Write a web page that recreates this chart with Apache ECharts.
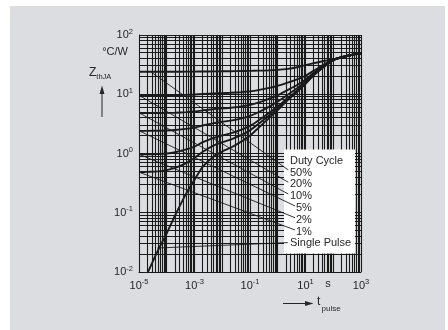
<!DOCTYPE html>
<html><head><meta charset="utf-8">
<script src="https://cdn.jsdelivr.net/npm/echarts@6/dist/echarts.min.js"></script>
<style>html,body{margin:0;padding:0;background:#fff}#c{width:448px;height:330px}</style>
</head><body><div id="c"></div><script>
// pulse durations (s)
const tPulse = [1e-5,2e-5,5e-5,1e-4,2e-4,5e-4,1e-3,2e-3,5e-3,1e-2,2e-2,5e-2,0.1,0.2,0.5,1,2,5,10,20,50,100,200,500,1000];
// thermal impedance Z_thJA (°C/W)
const zD50 = [24,24,24,24,24,24.05,24.1,24.2,24.3,24.4,24.5,24.65,24.8,25,25.3,25.8,26.6,28.5,31,33.5,36.8,39,42.5,46.5,48.5];
const zD20 = [9.6,9.61,9.62,9.64,9.67,9.77,9.89,10.08,10.32,10.46,10.6,10.88,11.2,11.76,12.8,13.9,15.4,17.8,20.5,25,32.5,38.5,42.2,46.5,48.5];
const zD10 = [4.8,4.81,4.82,4.84,4.88,4.99,5.12,5.34,5.61,5.77,5.93,6.24,6.6,7.23,8.4,9.66,11.4,14.3,17.8,23,31.5,38.2,42.1,46.5,48.5];
const zD5  = [2.4,2.41,2.42,2.44,2.49,2.6,2.74,2.97,3.26,3.43,3.59,3.92,4.3,4.97,6.2,7.53,9.4,12.6,16.4,22,30.8,38,42,46.5,48.5];
const zD2  = [0.965,0.97,0.98,1.0,1.05,1.17,1.31,1.55,1.84,2.02,2.19,2.53,2.92,3.6,4.88,6.25,8.2,11.5,15.6,21.4,30.3,37.9,42,46.5,48.5];
const zD1  = [0.485,0.49,0.5,0.525,0.57,0.69,0.84,1.07,1.37,1.55,1.72,2.06,2.46,3.15,4.44,5.83,7.8,11.3,15.2,21.2,30.1,37.8,42,46.5,48.5];
const zSingle = [0.005,0.0095,0.024,0.045,0.09,0.21,0.36,0.6,0.9,1.08,1.25,1.6,2.0,2.7,4.0,5.4,7.5,11,15,21,30,37.8,42,46.5,48.5];

const curveNames = ['50%','20%','10%','5%','2%','1%','Single Pulse'];
const curveValues = [zD50,zD20,zD10,zD5,zD2,zD1,zSingle];
// leader lines: [t, Z] start on curve -> end at label
const leaderFrom = [[2.8e-5,23.5],[1e-5,9.6],[1.05e-5,4.8],[1.05e-5,2.4],[1.05e-5,0.96],[1.05e-5,0.48],[4.5e-5,0.0254]];
const leaderTo   = [[2.4,0.527],[2.4,0.327],[2.4,0.207],[4.2,0.13],[4.2,0.0824],[4.2,0.0512],[2.3,0.0313]];

const xMin = 1e-5, xMax = 1e3, yMin = 1e-2, yMax = 1e2;
// log grid line values
const gridX = [], gridY = [];
for (let e = -5; e < 3; e++) for (let m = 1; m <= 9; m++) gridX.push(Number((m*Math.pow(10,e)).toPrecision(3)));
gridX.push(1000);
for (let e = -2; e < 2; e++) for (let m = 1; m <= 9; m++) gridY.push(Number((m*Math.pow(10,e)).toPrecision(3)));
gridY.push(100);

const FONT = 'Liberation Sans, Arial, Helvetica, sans-serif';
const TXT = '#262626';

function expLabel(v, oddOnly){
  const e = Math.round(Math.log10(v));
  if (oddOnly && Math.abs(e % 2) !== 1) return '';
  return '{b|10}{s|' + e + '}';
}
const richExp = {
  b: {fontSize: 11, fontFamily: FONT, color: TXT},
  s: {fontSize: 7.5, fontFamily: FONT, color: TXT, verticalAlign: 'bottom', padding: [0,0,7,0]}
};

const series = [];
series.push({
  type: 'custom', z: 1, silent: true, animation: false,
  data: gridX.map(v => [v, 1]),
  renderItem: (params, api) => {
    const p1 = api.coord([api.value(0), yMin]);
    const p2 = api.coord([api.value(0), yMax]);
    const x = Math.round(p1[0] - 0.5) + 0.5;
    return {type: 'line', shape: {x1: x, y1: p1[1], x2: x, y2: p2[1]}, style: {stroke: '#1a1a1a', lineWidth: 1.1}};
  }
});
series.push({
  type: 'custom', z: 1, silent: true, animation: false,
  data: gridY.map(v => [1, v]),
  renderItem: (params, api) => {
    const p1 = api.coord([xMin, api.value(1)]);
    const p2 = api.coord([xMax, api.value(1)]);
    const y = Math.round(p1[1] - 0.5) + 0.5;
    return {type: 'line', shape: {x1: p1[0], y1: y, x2: p2[0], y2: y}, style: {stroke: '#1a1a1a', lineWidth: 1.1}};
  }
});
curveValues.forEach((arr, i) => {
  series.push({
    name: curveNames[i], type: 'line', z: 8, silent: true,
    data: tPulse.map((t, k) => [t, arr[k]]),
    showSymbol: false, smooth: 0.25, clip: true,
    lineStyle: {color: '#1a1a1a', width: 1.9},
    animation: false
  });
  series.push({
    name: curveNames[i] + ' leader', type: 'line', zlevel: 2, z: 1, silent: true,
    data: [leaderFrom[i], leaderTo[i]],
    showSymbol: false, clip: false,
    lineStyle: {color: '#1a1a1a', width: 0.9},
    animation: false
  });
});

const legendItems = [
  ['Duty Cycle', 290, 161],
  ['50%', 290, 172.5],
  ['20%', 290, 184.2],
  ['10%', 290, 196],
  ['5%', 296, 208],
  ['2%', 296, 219.8],
  ['1%', 296, 231.6],
  ['Single Pulse', 290, 243.4]
];

// decorative elements drawn above the plot (legend box, axis titles, white page frame)
const topElems = [
  {type: 'rect', shape: {x: 0, y: 0, width: 448, height: 6}, style: {fill: '#ffffff'}},
  {type: 'rect', shape: {x: 0, y: 0, width: 10, height: 330}, style: {fill: '#ffffff'}},
  {type: 'rect', shape: {x: 445, y: 0, width: 3, height: 330}, style: {fill: '#ffffff'}},
  {type: 'rect', shape: {x: 284, y: 149.5, width: 71, height: 104}, style: {fill: '#ffffff'}},
  {type: 'text', x: 128, y: 52, style: {text: '°C/W', font: '11px ' + FONT, fill: TXT, align: 'right', verticalAlign: 'middle'}},
  {type: 'text', x: 89, y: 73, style: {text: '{z|Z}{sub|thJA}', fill: TXT, align: 'left', verticalAlign: 'middle',
     rich: {z: {fontSize: 12, fontFamily: FONT, fill: TXT}, sub: {fontSize: 7.5, fontFamily: FONT, fill: TXT, verticalAlign: 'top', padding: [7,0,0,0]}}}},
  {type: 'line', shape: {x1: 102, y1: 117, x2: 102, y2: 92}, style: {stroke: TXT, lineWidth: 1}},
  {type: 'polygon', shape: {points: [[99.5, 94], [104.5, 94], [102, 85.5]]}, style: {fill: TXT}},
  {type: 'text', x: 328, y: 283.5, style: {text: 's', font: '11px ' + FONT, fill: TXT, align: 'center', verticalAlign: 'middle'}},
  {type: 'line', shape: {x1: 283, y1: 303.5, x2: 306, y2: 303.5}, style: {stroke: TXT, lineWidth: 1}},
  {type: 'polygon', shape: {points: [[305, 301], [305, 306], [313.5, 303.5]]}, style: {fill: TXT}},
  {type: 'text', x: 317, y: 302, style: {text: 't', font: '12px ' + FONT, fill: TXT, align: 'left', verticalAlign: 'middle'}},
  {type: 'text', x: 321.5, y: 308.5, style: {text: 'pulse', font: '8px ' + FONT, fill: TXT, align: 'left', verticalAlign: 'middle'}}
];
legendItems.forEach(([txt, x, y]) => topElems.push({
  type: 'text', x: x, y: y,
  style: {text: txt, font: '11px ' + FONT, fill: TXT, align: 'left', verticalAlign: 'middle'}
}));
topElems.forEach(el => { el.zlevel = 1; el.z = 50; el.silent = true; });

const chart = echarts.init(document.getElementById('c'), null, {renderer: 'canvas'});
chart.setOption({
  backgroundColor: '#dcdde0',
  animation: false,
  grid: {left: 139, right: 87, top: 35, bottom: 58, containLabel: false},
  xAxis: {
    type: 'log', logBase: 10, min: xMin, max: xMax, splitNumber: 8,
    axisLine: {show: true, lineStyle: {color: '#1c1c1c', width: 1}},
    axisTick: {show: false}, splitLine: {show: false},
    axisLabel: {margin: 6, formatter: v => expLabel(v, true), rich: richExp, showMinLabel: true, showMaxLabel: true, interval: 0}
  },
  yAxis: {
    type: 'log', logBase: 10, min: yMin, max: yMax, splitNumber: 4,
    axisLine: {show: true, lineStyle: {color: '#1c1c1c', width: 1}},
    axisTick: {show: false}, splitLine: {show: false},
    axisLabel: {margin: 6, formatter: v => expLabel(v, false), rich: richExp, showMinLabel: true, showMaxLabel: true}
  },
  series: series,
  graphic: {elements: topElems}
});
</script></body></html>
